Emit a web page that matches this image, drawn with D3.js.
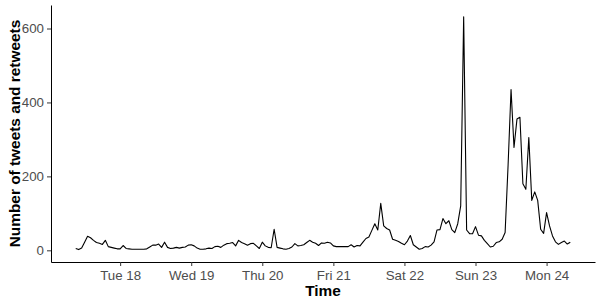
<!DOCTYPE html>
<html>
<head>
<meta charset="utf-8">
<script src="https://cdn.jsdelivr.net/npm/d3@7"></script>
<style>
  body { margin: 0; background: #fff; }
  svg { display: block; font-family: "Liberation Sans", Arial, sans-serif; }
  .axis path, .axis line { stroke: #333; }
  .axis .domain { stroke: #000; }
  .axis text { fill: #4d4d4d; font-size: 13.3px; }
  .title { font-weight: bold; font-size: 15.4px; fill: #000; }
</style>
</head>
<body>
<div id="chart"></div>
<script>
// hourly counts starting Mon 17 09:00
const startTime = new Date(2019, 5, 17, 9);
const tweetCounts = [
    5, 2, 6, 22, 38, 34, 27, 21, 19, 16,
    27, 10, 8, 6, 4, 4, 13, 5, 4, 3,
    3, 3, 3, 3, 4, 9, 14, 14, 17, 8,
    22, 8, 5, 6, 8, 6, 8, 9, 14, 15,
    12, 6, 3, 3, 4, 6, 5, 10, 11, 8,
    14, 18, 19, 21, 12, 27, 21, 18, 14, 18,
    19, 12, 5, 22, 12, 8, 7, 57, 8, 6,
    4, 3, 5, 9, 18, 12, 13, 15, 21, 27,
    22, 19, 13, 20, 19, 22, 20, 12, 10, 10,
    10, 10, 10, 15, 9, 13, 12, 22, 32, 36,
    54, 72, 55, 127, 66, 59, 55, 30, 27, 24,
    19, 15, 25, 40, 15, 9, 3, 5, 10, 9,
    14, 23, 55, 56, 86, 72, 80, 56, 48, 72,
    120, 632, 55, 45, 45, 64, 41, 39, 27, 18,
    9, 11, 21, 23, 30, 48, 230, 435, 278, 355,
    360, 180, 165, 305, 135, 158, 135, 57, 46, 102,
    66, 39, 23, 16, 21, 25, 17, 22
];
const tickDays = [18, 19, 20, 21, 22, 23, 24];
const yTicks = [0, 200, 400, 600];

class lineChartViz {
    constructor(parentElement, counts) {
        this.parentElement = parentElement;
        this.data = counts.map((c, i) => ({
            time: d3.timeHour.offset(startTime, i),
            count: c
        }));
        this.initVis();
    }

    initVis() {
        let vis = this;
        vis.margin = {top: 5, right: 5, bottom: 38, left: 51};
        vis.width = 600 - vis.margin.left - vis.margin.right;
        vis.height = 300 - vis.margin.top - vis.margin.bottom;

        vis.svg = d3.select("#" + vis.parentElement).append("svg")
            .attr("width", 600)
            .attr("height", 300)
            .append("g")
            .attr("transform", "translate(" + vis.margin.left + "," + vis.margin.top + ")");

        // ggplot style 5% padding on both scales
        let tExt = d3.extent(vis.data, d => d.time);
        let tPad = (tExt[1] - tExt[0]) * 0.05;
        vis.x = d3.scaleTime()
            .domain([new Date(+tExt[0] - tPad), new Date(+tExt[1] + tPad)])
            .range([0, vis.width]);

        let yMax = d3.max(vis.data, d => d.count);
        vis.y = d3.scaleLinear()
            .domain([-yMax * 0.05, yMax * 1.05])
            .range([vis.height, 0]);

        vis.xAxis = d3.axisBottom(vis.x)
            .tickValues(tickDays.map(d => new Date(2019, 5, d)))
            .tickFormat(d3.timeFormat("%a %d"))
            .tickSize(4)
            .tickSizeOuter(0)
            .tickPadding(4.5);

        vis.yAxis = d3.axisLeft(vis.y)
            .tickValues(yTicks)
            .tickSize(4)
            .tickSizeOuter(0)
            .tickPadding(3);

        vis.svg.append("g")
            .attr("class", "x-axis axis")
            .attr("transform", "translate(0," + vis.height + ")")
            .call(vis.xAxis);

        vis.svg.append("g")
            .attr("class", "y-axis axis")
            .call(vis.yAxis);

        vis.svg.selectAll(".axis text").attr("font-family", null).attr("font-size", null);

        vis.svg.append("text")
            .attr("class", "title")
            .attr("x", vis.width / 2)
            .attr("y", vis.height + 34)
            .attr("text-anchor", "middle")
            .text("Time");

        vis.svg.append("text")
            .attr("class", "title")
            .attr("transform", "translate(" + (20 - vis.margin.left) + "," + (vis.height / 2) + ") rotate(-90)")
            .attr("text-anchor", "middle")
            .text("Number of tweets and retweets");

        vis.updateVis();
    }

    updateVis() {
        let vis = this;
        let line = d3.line()
            .x(d => vis.x(d.time))
            .y(d => vis.y(d.count));

        vis.svg.append("path")
            .datum(vis.data)
            .attr("fill", "none")
            .attr("stroke", "#000")
            .attr("stroke-width", 1.1)
            .attr("stroke-linejoin", "round")
            .attr("d", line);
    }
}

new lineChartViz("chart", tweetCounts);
</script>
</body>
</html>
